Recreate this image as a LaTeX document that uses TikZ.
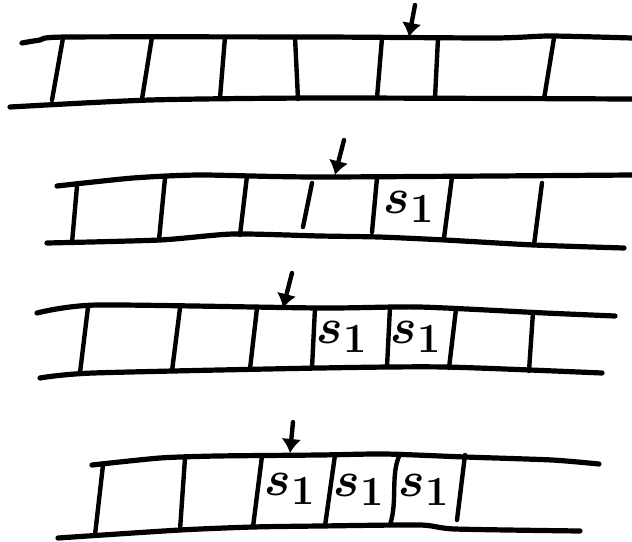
\documentclass[tikz,border=0pt]{standalone}
\usepackage{amsmath}
\usepackage{tikz}
\usetikzlibrary{arrows.meta}

\begin{document}
\begin{tikzpicture}[x=0.5pt, y=-0.5pt, >={Latex[length=7pt, width=10pt]}, line cap=round, line join=round]
        \tikzstyle{tapeline}=[line width=2.6pt]
        \tikzstyle{cellwall}=[line width=2.2pt]
        \tikzstyle{head}=[->, line width=2.2pt]
        \tikzstyle{sym}=[inner sep=0pt, font=\Huge\boldmath]
        \useasboundingbox (0,0) rectangle (632,541);

        % tape 1
        \draw[tapeline] plot[smooth, tension=0.4] coordinates {(22,43) (40,40) (67,37) (320,37) (494,38) (550,36) (632,38)};
        \draw[tapeline] plot[smooth, tension=0.4] coordinates {(10,107) (150,100) (320,98) (632,99)};
        \draw[cellwall] (63,38) -- (52,100);
        \draw[cellwall] (152,37) -- (142,99);
        \draw[cellwall] (225,37) -- (220,98);
        \draw[cellwall] (295,37) -- (298,99);
        \draw[cellwall] (382,38) -- (377,98);
        \draw[cellwall] (438,38) -- (435,98);
        \draw[cellwall] (554,38) -- (544,99);
        \coordinate (h1from) at (415,5);
        \coordinate (h1) at (409,37);
        \draw[head] (h1from) -- (h1);

        % tape 2
        \draw[tapeline] plot[smooth, tension=0.4] coordinates {(57,186) (133,178) (200,175) (320,177) (632,175)};
        \draw[tapeline] plot[smooth, tension=0.4] coordinates {(47,243) (160,240) (233,234) (320,236) (379,237) (445,240) (534,245) (624,248)};
        \draw[cellwall] (77,186) -- (72,243);
        \draw[cellwall] (165,178) -- (159,240);
        \draw[cellwall] (247,176) -- (240,235);
        \draw[cellwall] (312,183) -- (303,227);
        \draw[cellwall] (377,178) -- (372,232);
        \draw[cellwall] (452,177) -- (444,238);
        \draw[cellwall] (542,183) -- (534,245);
        \node[sym] (s2a) at (409,207) {$s_1$};
        \coordinate (h2from) at (344,140);
        \coordinate (h2) at (335,175);
        \draw[head] (h2from) -- (h2);

        % tape 3
        \draw[tapeline] plot[smooth, tension=0.4] coordinates {(37,313) (97,305) (320,308) (419,307) (545,313) (615,316)};
        \draw[tapeline] plot[smooth, tension=0.4] coordinates {(40,378) (93,373) (320,368) (445,367) (602,373)};
        \draw[cellwall] (88,307) -- (80,373);
        \draw[cellwall] (180,308) -- (172,371);
        \draw[cellwall] (257,308) -- (250,369);
        \draw[cellwall] (315,308) -- (312,368);
        \draw[cellwall] (390,307) -- (387,367);
        \draw[cellwall] (456,309) -- (449,368);
        \draw[cellwall] (533,312) -- (529,371);
        \node[sym] (s3a) at (342,337) {$s_1$};
        \node[sym] (s3b) at (416,337) {$s_1$};
        \coordinate (h3from) at (292,273);
        \coordinate (h3) at (283,308);
        \draw[head] (h3from) -- (h3);

        % tape 4
        \draw[tapeline] plot[smooth, tension=0.4] coordinates {(92,465) (160,458) (217,456) (320,455) (385,454) (465,457) (552,460) (599,464)};
        \draw[tapeline] plot[smooth, tension=0.4] coordinates {(58,538) (180,530) (253,527) (320,526) (420,525) (455,529) (580,531)};
        \draw[cellwall] (103,465) -- (95,535);
        \draw[cellwall] (185,458) -- (180,530);
        \draw[cellwall] (262,456) -- (253,527);
        \draw[cellwall] (335,455) -- (325,526);
        \draw[cellwall] (400,454) .. controls (390,475) and (398,500) .. (390,525);
        \draw[cellwall] (465,455) -- (457,520);
        \node[sym] (s4a) at (290,489) {$s_1$};
        \node[sym] (s4b) at (359,490) {$s_1$};
        \node[sym] (s4c) at (424,490) {$s_1$};
        \coordinate (h4from) at (293,422);
        \coordinate (h4) at (290,453);
        \draw[head] (h4from) -- (h4);
\end{tikzpicture}
\end{document}
